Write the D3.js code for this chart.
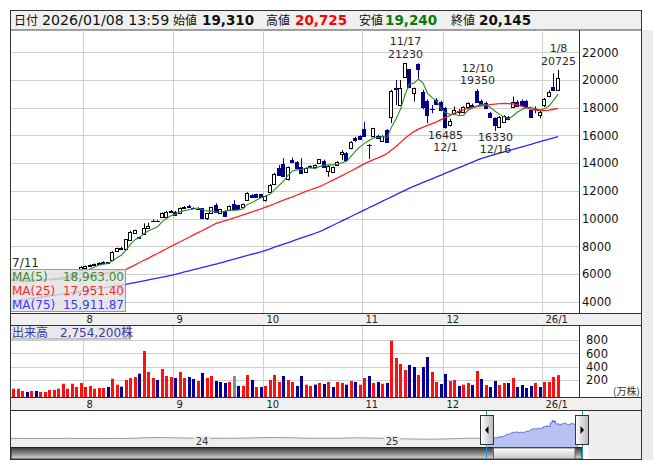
<!DOCTYPE html>
<html><head><meta charset="utf-8">
<script src="https://cdn.jsdelivr.net/npm/d3@7"></script>
<style>body{margin:0;background:#fff}svg{display:block}</style>
</head><body>
<svg id="c" width="653" height="470"></svg>
<script>
// ---------------- DATA ----------------
const open  = [5600,5620,5540,5480,5530,5580,5550,5610,5650,5640,5700,5740,5780,5830,5990,6300,6410,6580,6660,6720,6880,6800,7010,7680,7880,7780,8450,8980,8650,8890,9350,9860,9860,10140,10100,10500,10500,10380,10760,10880,10780,10700,10740,10010,10420,10980,10420,10570,10620,11050,10980,10860,11340,11700,11750,11740,11340,11940,12470,13620,13940,12830,14200,14100,13740,13330,13800,13740,13980,14180,13450,13380,13860,14660,14760,15070,15790,15960,16500,15330,15960,15950,15600,16380,17300,19400,18200,20190,20770,19085,21150,19160,18510,17920,18560,18440,17950,16750,17550,17700,17720,18030,18200,19200,18460,18360,17590,17230,16630,16990,17300,18070,18440,18500,18500,17830,17900,17470,18190,18850,19470,19310];
const high  = [5680,5650,5580,5560,5600,5620,5640,5680,5700,5720,5760,5800,5850,6000,6170,6560,6600,6700,6760,6840,6920,6860,7650,7900,7950,8520,9100,9200,8700,9650,9700,9950,9900,10450,10550,10620,10560,10800,10900,11000,10820,10780,10760,10400,10850,11100,10700,10600,10950,11330,11000,11080,11900,11760,11800,11780,11650,12500,13300,13870,14350,13750,14400,14150,14350,13680,13850,13900,14300,14250,13850,13750,14150,14950,14800,15600,15900,16000,16980,15380,16550,16050,16000,16450,19300,20000,20000,21230,20800,19450,21200,19300,18600,18200,18700,18500,18050,17200,18080,17900,18100,18400,18300,19350,18600,18450,17700,17300,17400,17450,17400,18800,18550,18600,18550,17900,18100,17800,18700,19250,20480,20725];
const low   = [5540,5500,5420,5450,5500,5520,5530,5580,5600,5610,5660,5700,5750,5800,5960,6280,6380,6560,6640,6700,6750,6770,6990,7650,7760,7760,8400,8950,8560,8850,9300,9780,9800,10100,10050,10450,10220,10350,10740,10800,10700,10650,9980,9900,10400,10450,10400,10150,10600,10650,10680,10840,11320,11500,11560,11550,11220,11900,12450,13100,13000,12750,14000,13600,13200,13300,13700,13580,13950,13700,13020,13350,13800,14230,14200,15000,15550,15700,15900,14300,15900,15750,15550,15500,16900,18200,18150,20150,19400,18440,20100,17880,16880,17600,18200,17800,16485,16650,17500,17500,17650,17950,17950,18400,18100,17900,17250,16330,16550,16950,17100,18000,18050,18150,18000,17300,17600,17250,18050,18750,19250,19240];
const close = [5620,5540,5470,5530,5580,5550,5610,5650,5630,5700,5740,5780,5820,5980,6150,6500,6570,6640,6700,6810,6780,6830,7610,7850,7800,8500,9050,9170,8620,9300,9450,9800,9840,10430,10500,10520,10260,10740,10840,10840,10760,10720,10010,10380,10810,10500,10660,10210,10900,10670,10690,11050,11820,11530,11580,11570,11630,12420,13220,13140,13070,13700,14050,13620,13260,13620,13740,13860,14270,13750,13790,13700,14100,14830,14230,15550,15650,15720,15980,15300,16510,15850,15960,15560,19200,19350,19450,21200,19470,19400,20770,18080,17470,17900,18270,17830,16630,17070,17840,17730,18030,18360,18030,18440,18300,17950,17300,16750,17300,17400,17200,18440,18120,18200,18070,17350,17880,17710,18600,19160,19280,20145];
// volume (万株) and its up / down / unchanged code
const volume = [73,73,39,25,39,39,25,25,54,54,73,147,73,147,98,158,98,114,73,83,83,98,222,133,103,203,232,247,296,634,322,232,203,366,262,247,232,322,232,247,218,187,307,232,262,187,173,158,173,262,114,114,277,203,98,98,114,203,277,173,262,203,173,114,262,133,114,133,158,143,173,98,173,158,133,187,173,133,232,262,158,173,147,158,787,530,440,351,426,396,277,396,544,322,173,143,292,187,202,114,133,158,128,336,217,128,98,187,128,158,158,232,98,128,83,114,158,98,173,173,247,275.42];
const volDir = ["uuududuuuu","uuuuuuuuuu","uduuduuudu","uuduuuduud","duduudddun","duududuuuu","duudduudud","uduududuud","ududuuuudd","udduudduud","uudududduu","dudddduduu","uu"].join("");
const ma25 = [5500,5510,5520,5530,5540,5550,5560,5570,5580,5595,5610,5625,5640,5660,5680,5720,5770,5830,5890,5950,6020,6090,6160,6230,6290,6340,6500,6660,6830,6990,7150,7320,7480,7650,7820,8000,8160,8330,8490,8650,8820,8980,9140,9310,9480,9650,9750,9850,9950,10050,10150,10260,10370,10480,10590,10700,10820,10940,11070,11200,11330,11450,11570,11700,11830,11960,12080,12200,12310,12460,12620,12780,12940,13100,13270,13430,13600,13780,13960,14110,14250,14380,14520,14700,14950,15200,15500,15800,16050,16280,16450,16600,16730,16850,16980,17140,17300,17450,17600,17740,17850,17940,18020,18080,18130,18180,18220,18260,18290,18310,18300,18270,18200,18100,17990,17890,17820,17790,17790,17830,17890,17951];
const ma75 = [4050,4095,4140,4185,4230,4275,4320,4370,4415,4460,4505,4550,4600,4650,4700,4750,4800,4850,4900,4950,5000,5050,5100,5150,5200,5250,5315,5380,5445,5510,5575,5640,5705,5770,5835,5900,5980,6060,6145,6225,6310,6390,6470,6555,6635,6720,6810,6895,6985,7070,7160,7250,7335,7425,7510,7600,7710,7820,7935,8045,8155,8270,8380,8490,8605,8715,8825,8940,9050,9205,9365,9520,9680,9835,9995,10150,10310,10465,10625,10780,10940,11095,11255,11410,11570,11725,11885,12040,12200,12335,12470,12605,12740,12870,13005,13140,13275,13410,13545,13680,13810,13945,14080,14215,14350,14440,14535,14625,14720,14810,14900,14995,15085,15180,15270,15360,15455,15545,15640,15730,15820,15912];
const priceTicks = [4000,6000,8000,10000,12000,14000,16000,18000,20000,22000];
const volTicks = [200,400,600,800];
const monthLabels = ["8","9","10","11","12","26/1"];
const monthFirstIdx = [16,36,56,78,96,118];
const highLabels = [{i:87,date:"11/17",price:"21230"},{i:103,date:"12/10",price:"19350"},{i:121,date:"1/8",price:"20725"}];
const lowLabels  = [{i:96,date:"12/1",price:"16485"},{i:107,date:"12/16",price:"16330"}];
const legendNames = ["MA(5)","MA(25)","MA(75)"];
const legendValues = ["18,963.00","17,951.40","15,911.87"];
const header = [["日付","2026/01/08 13:59"],["始値","19,310"],["高値","20,725"],["安値","19,240"],["終値","20,145"]];
const volumeLabel = "出来高　2,754,200株";
// navigator: monthly closes Jan 2023 .. Jun 2025 (before the shown range)
const navMonthly = [5300,5250,5300,5350,5300,5250,5300,5350,5900,6100,5700,5500,5400,5450,5500,5900,6100,5900,5500,5400,5350,5800,5700,5400,5000,4700,4600,4900,5300,5500];
const navYears = [{label:"24",month:12},{label:"25",month:24}];

// ---------------- DRAW ----------------
const svg = d3.select("#c");
const F = "'DejaVu Sans','Noto Sans CJK JP',sans-serif";
const FJ = "'Noto Sans CJK JP',sans-serif";
const N = close.length;
const dir = volDir.split("");
const SLOTS = 126;
const L = 11, R = 579;
const x = d3.scaleLinear().domain([0, SLOTS]).range([11.3, 578.3]);
const xc = i => Math.floor(x(i + 0.5)) + 0.5;
const P = {top:30, bottom:313};
const V = {top:325, bottom:397.3};
const y = d3.scaleLinear().domain([4000, 22000]).range([301.7, 52.3]);
const vy = d3.scaleLinear().domain([0, 800]).range([393.6, 339.8]);
const gridC = "#cfcfcf";

// side gray
svg.append("rect").attr("x",642).attr("y",30).attr("width",11).attr("height",430).attr("fill","#ececec");

// header
svg.append("rect").attr("x",10.5).attr("y",10.5).attr("width",631).attr("height",19.5).attr("fill","#f0f0f0").attr("stroke","#444");
const hx = [[14,42],[173,202],[266,295],[359,385],[451,479]];
const hcol = ["#111","#111","#ff0000","#0a7a0a","#111"];
header.forEach((h,k)=>{
  svg.append("text").attr("x",hx[k][0]).attr("y",25).attr("font-family",FJ).attr("font-size",12).attr("fill","#111").text(h[0]);
  if(k===0) svg.append("text").attr("x",hx[k][1]).attr("y",25).attr("font-family",F).attr("font-size",14.2).attr("fill","#111").text(h[1]);
  else svg.append("text").attr("x",hx[k][1]).attr("y",25).attr("font-family",F).attr("font-size",13.5).attr("font-weight","bold").attr("fill",hcol[k]).text(h[1]);
});

// strips
[[313,325],[397.3,410.7]].forEach(s=>svg.append("rect").attr("x",10).attr("y",s[0]).attr("width",632).attr("height",s[1]-s[0]).attr("fill","#f0f0f0"));

// grids
const g = svg.append("g");
priceTicks.forEach(t=>g.append("line").attr("x1",L).attr("x2",R).attr("y1",Math.round(y(t))+0.5).attr("y2",Math.round(y(t))+0.5).attr("stroke",gridC));
monthFirstIdx.forEach(i=>{
  const gx = Math.round(x(i))+0.5;
  g.append("line").attr("x1",gx).attr("x2",gx).attr("y1",P.top).attr("y2",P.bottom).attr("stroke",gridC);
  g.append("line").attr("x1",gx).attr("x2",gx).attr("y1",V.top).attr("y2",V.bottom).attr("stroke",gridC);
});
volTicks.forEach(t=>g.append("line").attr("x1",L).attr("x2",R).attr("y1",Math.round(vy(t))+0.5).attr("y2",Math.round(vy(t))+0.5).attr("stroke",gridC));

// clip
svg.append("clipPath").attr("id","pc").append("rect").attr("x",L).attr("y",P.top).attr("width",R-L).attr("height",P.bottom-P.top);
const pg = svg.append("g").attr("clip-path","url(#pc)");

// candles
const navy = "#00008b";
for(let i=0;i<N;i++){
  const cx = xc(i), o=open[i], c=close[i];
  const up = c>o, flat = c===o;
  const col = up||flat ? "#000" : navy;
  pg.append("line").attr("x1",cx).attr("x2",cx).attr("y1",y(high[i])).attr("y2",y(low[i])).attr("stroke",col);
  const top = Math.round(y(Math.max(o,c))), bot = Math.round(y(Math.min(o,c)));
  if(bot-top<1){
    pg.append("line").attr("x1",cx-2.5).attr("x2",cx+2.5).attr("y1",top+0.5).attr("y2",top+0.5).attr("stroke",col);
  } else {
    pg.append("rect").attr("x",cx-2).attr("y",top+0.5).attr("width",3).attr("height",Math.max(1,bot-top))
      .attr("fill",up?"#fff":navy).attr("stroke",up?"#000":navy);
  }
}
// moving averages (MA5 from the closes; MA25/MA75)
const ma5 = close.map((c,i)=>d3.mean(close.slice(Math.max(0,i-4),i+1)));
const line = d3.line().x((d,i)=>x(i+0.5)).y(d=>y(d));
pg.append("path").attr("d",line(ma75)).attr("fill","none").attr("stroke","#2828ff").attr("stroke-width",1.3);
pg.append("path").attr("d",line(ma25)).attr("fill","none").attr("stroke","#ff2222").attr("stroke-width",1.3);
pg.append("path").attr("d",line(ma5)).attr("fill","none").attr("stroke","#2a8a2a").attr("stroke-width",1.1);

// hi/lo labels
const AF = 11, AS = 12.5;
highLabels.forEach(d=>{
  const b = y(high[d.i]) - 5;
  svg.append("text").attr("x",xc(d.i)).attr("y",b-AS).attr("text-anchor","middle").attr("font-family",F).attr("font-size",AF).attr("fill","#2a2a2a").text(d.date);
  svg.append("text").attr("x",xc(d.i)).attr("y",b).attr("text-anchor","middle").attr("font-family",F).attr("font-size",AF).attr("fill","#2a2a2a").text(d.price);
});
lowLabels.forEach(d=>{
  const b = y(low[d.i]) + 10;
  svg.append("text").attr("x",xc(d.i)).attr("y",b).attr("text-anchor","middle").attr("font-family",F).attr("font-size",AF).attr("fill","#2a2a2a").text(d.price);
  svg.append("text").attr("x",xc(d.i)).attr("y",b+AS).attr("text-anchor","middle").attr("font-family",F).attr("font-size",AF).attr("fill","#2a2a2a").text(d.date);
});
svg.append("text").attr("x",12).attr("y",267).attr("font-family",F).attr("font-size",12).attr("fill","#2a2a2a").text("7/11");

// legend
svg.append("rect").attr("x",10.5).attr("y",269.5).attr("width",115).attr("height",42).attr("fill","#e2e2e2").attr("fill-opacity",0.82).attr("stroke","#9a9a9a");
const lcol = ["#3c8a3c","#ff2a2a","#3a3aff"];
legendNames.forEach((n,k)=>{
  const b = 281 + k*13.8;
  svg.append("text").attr("x",12).attr("y",b).attr("font-family",F).attr("font-size",12).attr("fill",lcol[k]).text(n);
  svg.append("text").attr("x",124).attr("y",b).attr("text-anchor","end").attr("font-family",F).attr("font-size",12).attr("fill",lcol[k]).text(legendValues[k]);
});

// price axis labels
priceTicks.forEach(t=>svg.append("text").attr("x",582).attr("y",y(t)+4.3).attr("font-family",F).attr("font-size",11.5).attr("fill","#111").text(t));

// volume bars
const vcol = {u:"#ff1010", d:"#000099", n:"#8c8c8c"};
for(let i=0;i<N;i++){
  const cx = Math.floor(x(i+0.5));
  const t = vy(volume[i]);
  svg.append("rect").attr("x",cx-1).attr("y",t).attr("width",3).attr("height",V.bottom-t).attr("fill",vcol[dir[i]]);
}
volTicks.forEach(t=>svg.append("text").attr("x",586).attr("y",vy(t)+4.3).attr("font-family",F).attr("font-size",11.5).attr("fill","#111").text(t));
svg.append("text").attr("x",613).attr("y",395).attr("font-family",FJ).attr("font-size",10).attr("fill","#333").text("(万株)");
svg.append("rect").attr("x",10.5).attr("y",325.5).attr("width",120).attr("height",13.5).attr("fill","#e6e6e6").attr("fill-opacity",0.9).attr("stroke","#9a9a9a");
svg.append("text").attr("x",12).attr("y",337).attr("font-family",F).attr("font-size",12).attr("fill","#3a3aa8").text(volumeLabel);

// month labels
monthFirstIdx.forEach((i,k)=>{
  const gx = Math.round(x(i));
  [322.5,407.5].forEach(b=>svg.append("text").attr("x",gx+3.5).attr("y",b).attr("font-family",F).attr("font-size",10).attr("fill","#222").text(monthLabels[k]));
});

// separators
[[P.top,P.bottom],[V.top,V.bottom]].forEach(s=>svg.append("line").attr("x1",R+0.5).attr("x2",R+0.5).attr("y1",s[0]).attr("y2",s[1]).attr("stroke","#333"));
[313.5,325.5,397.5,410.5].forEach(yy=>svg.append("line").attr("x1",10).attr("x2",642).attr("y1",yy).attr("y2",yy).attr("stroke","#333"));

// ---------------- navigator ----------------
const nx = d3.scaleLinear().domain([0, SLOTS]).range([487, 582]);
const ny = d3.scaleLinear().domain([0, 22000]).range([444.5, 419.2]);
const NB = 447.5;
svg.append("rect").attr("x",588).attr("y",411).attr("width",53).attr("height",48).attr("fill","#efefef");
const prePts = navMonthly.map((v,k)=>[nx((k-30)*21+10.5), ny(v)]);
prePts.unshift([11, ny(navMonthly[0])]);
const winPts = close.map((v,i)=>[nx(i+0.5), ny(v)]);
const allPre = prePts.concat([winPts[0]]);
const area = d3.area().x(d=>d[0]).y0(NB).y1(d=>d[1]);
const nl = d3.line().x(d=>d[0]).y(d=>d[1]);
svg.append("path").attr("d",area(allPre)).attr("fill","#ededed");
svg.append("path").attr("d",nl(allPre)).attr("fill","none").attr("stroke","#9a9a9a");
svg.append("path").attr("d",area(winPts)).attr("fill","#b7c2f3");
svg.append("path").attr("d",nl(winPts)).attr("fill","none").attr("stroke","#5868c8");
navYears.forEach(d=>{
  const tx = nx((d.month-30)*21);
  svg.append("rect").attr("x",tx-8).attr("y",436).attr("width",16).attr("height",10).attr("fill","#ededed");
  svg.append("text").attr("x",tx).attr("y",445).attr("text-anchor","middle").attr("font-family",F).attr("font-size",10).attr("fill","#333").text(d.label);
});
const defs = svg.append("defs");
const tg = defs.append("linearGradient").attr("id","tg").attr("x1",0).attr("y1",0).attr("x2",0).attr("y2",1);
tg.append("stop").attr("offset","0%").attr("stop-color","#3a3a3a");
tg.append("stop").attr("offset","55%").attr("stop-color","#8e8e8e");
tg.append("stop").attr("offset","100%").attr("stop-color","#dedede");
const hg = defs.append("linearGradient").attr("id","hg").attr("x1",0).attr("y1",0).attr("x2",0).attr("y2",1);
hg.append("stop").attr("offset","0%").attr("stop-color","#ffffff");
hg.append("stop").attr("offset","100%").attr("stop-color","#c4c4c4");
const hh = defs.append("linearGradient").attr("id","hh").attr("x1",0).attr("y1",0).attr("x2",1).attr("y2",0);
hh.append("stop").attr("offset","0%").attr("stop-color","#ffffff");
hh.append("stop").attr("offset","100%").attr("stop-color","#b8b8b8");
svg.append("rect").attr("x",11).attr("y",NB).attr("width",571).attr("height",11.5).attr("fill","url(#tg)").attr("stroke","#222");
svg.append("rect").attr("x",493.5).attr("y",NB+0.5).attr("width",81.5).attr("height",11).attr("fill","url(#hg)").attr("stroke","#666");
[486.5,582.5].forEach(lx=>svg.append("line").attr("x1",lx).attr("x2",lx).attr("y1",411).attr("y2",459).attr("stroke","#1f9de0"));
[[480.5,-1],[575.5,1]].forEach(h=>{
  svg.append("rect").attr("x",h[0]).attr("y",415.5).attr("width",13).attr("height",29).attr("fill","url(#hh)").attr("stroke","#333");
  const cx = h[0]+6.5, cy = 430;
  const pts = h[1]<0 ? [[cx+1.5,cy-4],[cx+1.5,cy+4],[cx-2,cy]] : [[cx-1.5,cy-4],[cx-1.5,cy+4],[cx+2,cy]];
  svg.append("path").attr("d",d3.line()(pts)+"Z").attr("fill","#000");
});

// outer frame
svg.append("rect").attr("x",10.5).attr("y",10.5).attr("width",631).attr("height",449).attr("fill","none").attr("stroke","#333");
</script>
</body></html>
